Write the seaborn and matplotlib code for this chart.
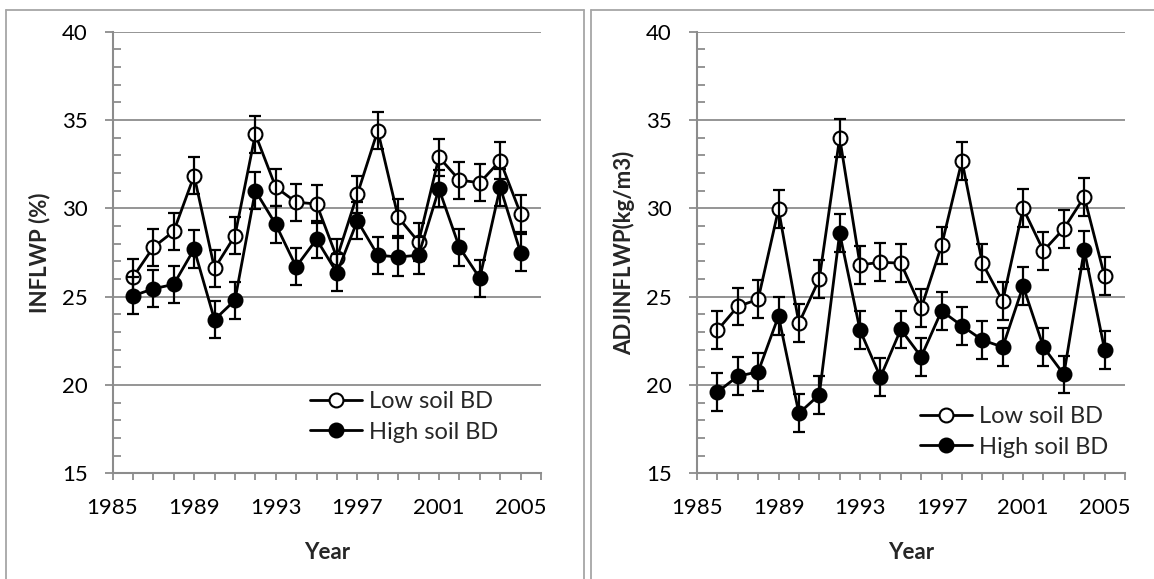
import matplotlib
matplotlib.use("Agg")
import matplotlib.pyplot as plt
import seaborn as sns
import pandas as pd
from matplotlib.lines import Line2D
from matplotlib.ticker import FixedLocator, MultipleLocator, FuncFormatter

# ---------------- data ----------------
years = list(range(1986, 2006))
inflwp_low = [26.1, 27.8, 28.7, 31.85, 26.6, 28.45, 34.2, 31.2, 30.35, 30.25,
              27.2, 30.8, 34.4, 29.5, 28.1, 32.9, 31.6, 31.45, 32.7, 29.7]
inflwp_high = [25.05, 25.45, 25.7, 27.7, 23.7, 24.8, 31.0, 29.1, 26.7, 28.25,
               26.35, 29.3, 27.35, 27.25, 27.35, 31.1, 27.8, 26.05, 31.2, 27.5]
inflwp_low_err = [1.05] * 20
inflwp_high_err = [1.05] * 20

adj_low = [23.1, 24.45, 24.85, 29.95, 23.5, 26.0, 34.0, 26.8, 26.95, 26.9,
           24.35, 27.9, 32.7, 26.9, 24.75, 30.0, 27.6, 28.85, 30.65, 26.15]
adj_high = [19.6, 20.5, 20.75, 23.9, 18.4, 19.45, 28.6, 23.1, 20.45, 23.15,
            21.6, 24.2, 23.35, 22.55, 22.15, 25.6, 22.15, 20.6, 27.65, 22.0]
adj_low_err = [1.07] * 20
adj_high_err = [1.07] * 20

series_names = ["Low soil BD", "High soil BD"]
year_tick_labels = [1985, 1989, 1993, 1997, 2001, 2005]
ylabels = ["INFLWP (%)", "ADJINFLWP(kg/m3)"]
xlabel = "Year"

# ---------------- style ----------------
sns.set_theme(style="white")
plt.rcParams["font.family"] = ["Lato", "DejaVu Sans"]
FS = 16
LFS = 17

W, H = 1154, 579
fig = plt.figure(figsize=(W / 100, H / 100), dpi=100)

def fx(px):
    return px / W

def fy(py):
    return 1 - py / H

ax_specs = [
    (112.5, 541.0),
    (697.0, 1125.0),
]
top_px, bot_px = 31.7, 473.4

panels = [
    (inflwp_low, inflwp_low_err, inflwp_high, inflwp_high_err, ylabels[0]),
    (adj_low, adj_low_err, adj_high, adj_high_err, ylabels[1]),
]
legend_pos = [(0.462, 0.128), (0.52, 0.094)]

grid_col = "#8c8c8c"
LW = 2.0

for i, ((l, r), (lo, lo_e, hi, hi_e, ylab)) in enumerate(zip(ax_specs, panels)):
    ax = fig.add_axes([fx(l), fy(bot_px), (r - l) / W, (bot_px - top_px) / H])
    df = pd.DataFrame({"Year": years * 2,
                       "val": lo + hi,
                       "series": [series_names[0]] * 20 + [series_names[1]] * 20})
    for name, fc, vals, errs in [(series_names[0], "white", lo, lo_e),
                                 (series_names[1], "black", hi, hi_e)]:
        sub = df[df["series"] == name]
        sns.lineplot(data=sub, x="Year", y="val", ax=ax, color="black",
                     linewidth=LW, marker="o", markersize=10,
                     markerfacecolor=fc, markeredgecolor="black",
                     markeredgewidth=1.5, zorder=3, legend=False)
        ax.errorbar(years, vals, yerr=errs, fmt="none", ecolor="black",
                    elinewidth=1.6, capsize=4.3, capthick=1.6, zorder=4)

    ax.set_xlim(1985, 2006)
    ax.set_ylim(15, 40)
    ax.yaxis.set_major_locator(MultipleLocator(5))
    ax.yaxis.set_minor_locator(MultipleLocator(1))
    ax.xaxis.set_major_locator(FixedLocator(list(range(1985, 2007))))
    ax.xaxis.set_major_formatter(
        FuncFormatter(lambda v, p: str(int(round(v))) if int(round(v)) in year_tick_labels else ""))
    ax.grid(axis="y", which="major", color=grid_col, linewidth=1.3)
    ax.grid(axis="x", visible=False)
    ax.set_axisbelow(True)
    for s in ["top", "right"]:
        ax.spines[s].set_visible(False)
    for s in ["left", "bottom"]:
        ax.spines[s].set_color(grid_col)
        ax.spines[s].set_linewidth(1.5)
    ax.tick_params(axis="y", which="major", direction="out", length=6, width=1.3,
                   color=grid_col, labelsize=FS, pad=12, left=True)
    ax.tick_params(axis="y", which="minor", direction="in", length=6, width=1.3,
                   color=grid_col, left=True)
    ax.tick_params(axis="x", which="major", direction="out", length=5, width=1.3,
                   color=grid_col, labelsize=FS, pad=13, bottom=True)
    for t in ax.get_xticklabels() + ax.get_yticklabels():
        t.set_color("black")
    ax.set_xlabel(xlabel, fontsize=FS, fontweight="bold", labelpad=17)
    ax.set_ylabel(ylab, fontsize=FS, fontweight="bold", labelpad=8)

    handles = [
        Line2D([0], [0], color="black", linewidth=LW, marker="o", markersize=10,
               markerfacecolor="white", markeredgecolor="black", markeredgewidth=1.5),
        Line2D([0], [0], color="black", linewidth=LW, marker="o", markersize=10,
               markerfacecolor="black", markeredgecolor="black", markeredgewidth=1.5),
    ]
    ax.legend(handles, series_names, loc="center left",
              bbox_to_anchor=legend_pos[i], frameon=False, fontsize=LFS,
              handlelength=2.2, handletextpad=0.3, labelspacing=0.4, numpoints=1,
              borderaxespad=0, borderpad=0)

# panel frames
box_col = "#a6a6a6"
for xs, ys in [([6, 6], [10, 579]), ([6, 584], [10, 10]), ([584, 584], [10, 579]),
               ([591, 591], [10, 579]), ([591, 1154], [10, 10])]:
    fig.add_artist(Line2D([fx(x) for x in xs], [fy(y) for y in ys],
                          transform=fig.transFigure, color=box_col, linewidth=1.3))

fig.savefig("out.png", dpi=100)
